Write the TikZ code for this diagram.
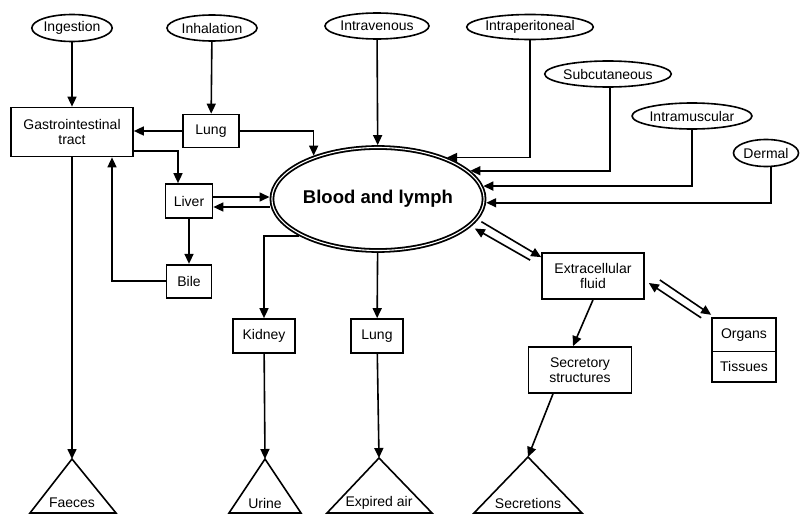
\documentclass[tikz,border=0pt]{standalone}
\usepackage{fontspec}
\setmainfont{Liberation Sans}
\usetikzlibrary{shapes.geometric,shapes.multipart,arrows.meta,positioning,calc}

\begin{document}
\begin{tikzpicture}[x=1pt, y=-1pt,
    route/.style={draw, ellipse, line width=1.6pt, inner sep=0pt, font=\fontsize{14}{15.5}\selectfont},
    box/.style={draw, rectangle, line width=1.7pt, inner sep=0pt, align=center, font=\fontsize{14}{15.5}\selectfont},
    sink/.style={inner sep=0pt, font=\fontsize{14}{15.5}\selectfont},
    arr/.style={-{Triangle[length=10pt,width=9pt]}, line width=1.6pt}]
    \useasboundingbox (0,0) rectangle (801,514);

    % routes of entry
    \node (ing) [route, minimum width=78pt, minimum height=27pt] at (72,28) {Ingestion};
    \node (inh) [route, minimum width=90pt, minimum height=26pt] at (212,28) {Inhalation};
    \node (iv) [route, minimum width=104pt, minimum height=26pt] at (377,26) {Intravenous};
    \node (ip) [route, minimum width=116pt, minimum height=25pt] at (530,27) {Intraperitoneal};
    \node (sc) [route, minimum width=116pt, minimum height=26pt] at (608,74) {Subcutaneous};
    \node (im) [route, minimum width=116pt, minimum height=26pt] at (692,116) {Intramuscular};
    \node (der) [route, minimum width=65pt, minimum height=27pt] at (766,153) {Dermal};

    % central compartment
    \node (blood) [draw, ellipse, double, line width=1.8pt, double distance=1.1pt, minimum width=186pt, minimum height=103pt, inner sep=0pt, outer sep=2.4pt, font=\bfseries\fontsize{18.5}{20}\selectfont] at (378,199) {Blood and lymph};

    % organs and tissues
    \node (gi) [box, minimum width=122pt, minimum height=49pt] at (72,132) {Gastrointestinal\\tract};
    \node (lung) [box, minimum width=56pt, minimum height=33pt] at (211,131) {Lung};
    \node (liver) [box, minimum width=47pt, minimum height=34pt] at (189,201) {Liver};
    \node (bile) [box, minimum width=45pt, minimum height=33pt, below=45pt of liver] {Bile};
    \node (kidney) [box, minimum width=62pt, minimum height=34pt] at (264,336) {Kidney};
    \node (lung2) [box, minimum width=52pt, minimum height=34pt] at (377,336) {Lung};
    \node (ecf) [box, minimum width=102pt, minimum height=46pt] at (593,276) {Extracellular\\fluid};
    \node (secr) [box, minimum width=103pt, minimum height=46pt] at (580,370) {Secretory\\structures};
    \node (organs) [box, rectangle split, rectangle split parts=2, minimum width=64pt, text height=10pt, text depth=3pt, inner ysep=9.5pt] at (744,350) {Organs\nodepart{two}Tissues};

    % routes of elimination
    \node (faeces) [sink] at (72,503) {Faeces};
    \coordinate (faecestop) at (72,459);
    \node (urine) [sink] at (265,503) {Urine};
    \coordinate (urinetop) at (265,459);
    \node (expired) [sink] at (379,503) {Expired air};
    \coordinate (expiredtop) at (379,458);
    \node (secretions) [sink] at (528,503) {Secretions};
    \coordinate (secretionstop) at (528,457);
    \draw [line width=1.6pt] (30,513) -- (faecestop) -- (116,513) -- cycle;
    \draw [line width=1.6pt] (229,513) -- (urinetop) -- (301,513) -- cycle;
    \draw [line width=1.6pt] (327,513) -- (expiredtop) -- (432,513) -- cycle;
    \draw [line width=1.6pt] (474,513) -- (secretionstop) -- (582,513) -- cycle;

    % absorption
    \draw [arr] (ing) -- (gi);
    \draw [arr] (inh) -- (lung);
    \draw [arr] (iv) -- (blood);
    \draw [arr] (lung.west) -- (lung.west -| gi.east);
    \draw [arr] (lung.east) -| (blood.146);
    \draw [arr] ([yshift=-19pt]gi.east) -| ([xshift=-11pt]liver.north);
    \draw [arr] ([yshift=4pt]liver.east) -- ([yshift=4pt]liver.east -| blood.west);
    \draw [arr] ([yshift=-6pt]liver.east -| blood.west) -- ([yshift=-6pt]liver.east);
    \draw [arr] (liver) -- (bile);
    \draw [arr] (bile.west) -| ([xshift=40pt]gi.south);
    \draw [arr] (ip.south) |- (blood.31);
    \draw [arr] ([xshift=2pt]sc.south) |- (blood.17);
    \draw [arr] (im.south) |- (blood.7);
    \draw [arr] ([xshift=5pt]der.south) |- (blood.-2);

    % distribution
    \draw [arr] ([xshift=5pt]blood.-13) -- ([yshift=-5pt]ecf.north west);
    \draw [arr] ([shift={(-11pt,-8pt)}]ecf.north west) -- ([xshift=6pt]blood.-18);
    \draw [arr] ([shift={(15pt,-4pt)}]ecf.east) -- ([yshift=2pt]organs.north west);
    \draw [arr] ([shift={(-10pt,-1pt)}]organs.north west) -- ([shift={(4pt,-7pt)}]ecf.east);
    \draw [arr] (ecf.south) -- ([xshift=-7pt]secr.north);

    % excretion
    \draw [arr] (gi.south) -- (faecestop);
    \draw [arr] (blood.205) -| (kidney.north);
    \draw [arr] (kidney) -- (urinetop);
    \draw [arr] (blood) -- (lung2);
    \draw [arr] (lung2) -- (expiredtop);
    \draw [arr] ([xshift=-27pt]secr.south) -- (secretionstop);

\end{tikzpicture}
\end{document}
